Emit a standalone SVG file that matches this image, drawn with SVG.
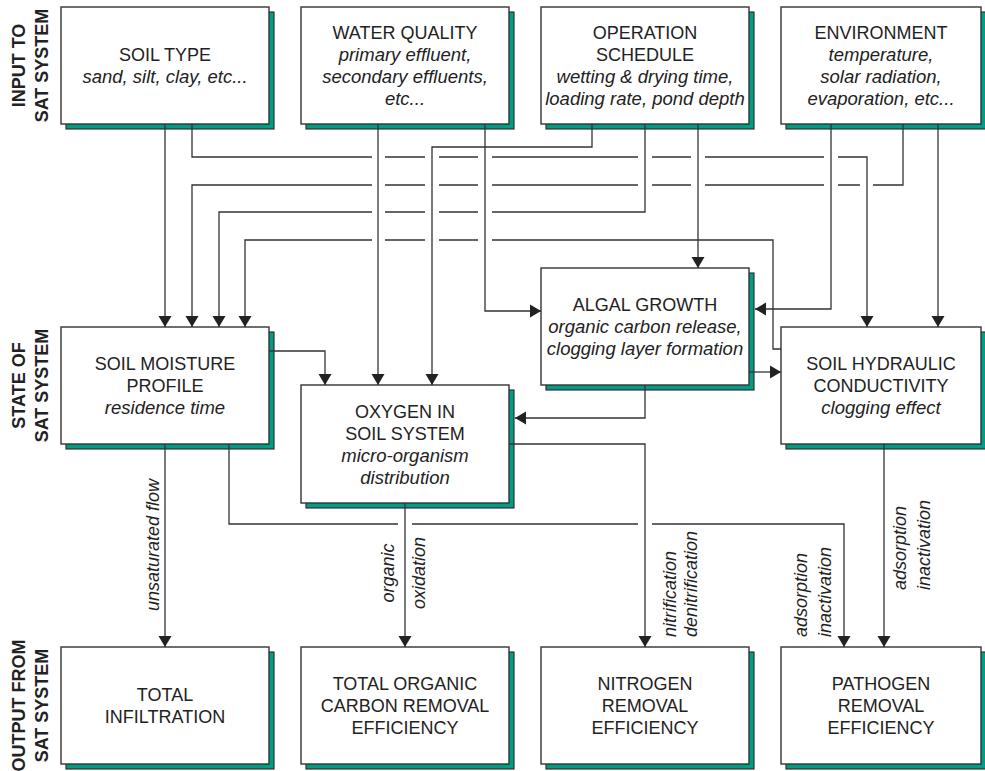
<svg xmlns="http://www.w3.org/2000/svg" width="985" height="771" viewBox="0 0 985 771">
<style>
.sh{fill:#009c86;stroke:#333;stroke-width:1.2}
.bx{fill:#fff;stroke:#333;stroke-width:1.4}
.t{font-family:"Liberation Sans",Arial,sans-serif;font-size:18px;fill:#222;text-anchor:middle}
.i{font-style:italic;font-size:18.5px}
.lb{font-family:"Liberation Sans",Arial,sans-serif;font-size:18px;font-weight:bold;fill:#222;text-anchor:middle}
.el{font-family:"Liberation Sans",Arial,sans-serif;font-size:18px;font-style:italic;fill:#222}
.c{fill:none;stroke:#333;stroke-width:1.3}
</style>
<defs>
<marker id="ar" markerUnits="userSpaceOnUse" markerWidth="14" markerHeight="14" viewBox="0 -7 12 14" refX="11" refY="0" orient="auto">
<path d="M0,-6.5 L11,0 L0,6.5 z" fill="#222"/>
</marker>
</defs>
<rect width="985" height="771" fill="#fff"/>

<g id="side-labels">
<g transform="translate(25,65.5) rotate(-90)"><text class="lb" y="0">INPUT TO</text><text class="lb" y="23">SAT SYSTEM</text></g>
<g transform="translate(25,385.5) rotate(-90)"><text class="lb" y="0">STATE OF</text><text class="lb" y="23">SAT SYSTEM</text></g>
<g transform="translate(25,705.5) rotate(-90)"><text class="lb" y="0">OUTPUT FROM</text><text class="lb" y="23">SAT SYSTEM</text></g>
</g>

<g id="soil-type">
<rect class="sh" x="66" y="12" width="208" height="117"/><rect class="bx" x="61" y="7" width="208" height="117"/>
<text class="t" x="165" y="61">SOIL TYPE</text>
<text class="t i" x="165" y="83">sand, silt, clay, etc...</text>
</g>
<g id="water-quality">
<rect class="sh" x="306" y="12" width="208" height="117"/><rect class="bx" x="301" y="7" width="208" height="117"/>
<text class="t" x="405" y="39">WATER QUALITY</text>
<text class="t i" x="405" y="61">primary effluent,</text>
<text class="t i" x="405" y="83">secondary effluents,</text>
<text class="t i" x="405" y="105">etc...</text>
</g>
<g id="operation-schedule">
<rect class="sh" x="546" y="12" width="208" height="117"/><rect class="bx" x="541" y="7" width="208" height="117"/>
<text class="t" x="645" y="39">OPERATION</text>
<text class="t" x="645" y="61">SCHEDULE</text>
<text class="t i" x="645" y="83">wetting &amp; drying time,</text>
<text class="t i" x="645" y="105">loading rate, pond depth</text>
</g>
<g id="environment">
<rect class="sh" x="786" y="12" width="200" height="117"/><rect class="bx" x="781" y="7" width="200" height="117"/>
<text class="t" x="881" y="39">ENVIRONMENT</text>
<text class="t i" x="881" y="61">temperature,</text>
<text class="t i" x="881" y="83">solar radiation,</text>
<text class="t i" x="881" y="105">evaporation, etc...</text>
</g>

<g id="soil-moisture">
<rect class="sh" x="66" y="332" width="208" height="117"/><rect class="bx" x="61" y="327" width="208" height="117"/>
<text class="t" x="165" y="370">SOIL MOISTURE</text>
<text class="t" x="165" y="392">PROFILE</text>
<text class="t i" x="165" y="414">residence time</text>
</g>
<g id="oxygen">
<rect class="sh" x="306" y="390" width="208" height="118"/><rect class="bx" x="301" y="385" width="208" height="118"/>
<text class="t" x="405" y="417.5">OXYGEN IN</text>
<text class="t" x="405" y="439.5">SOIL SYSTEM</text>
<text class="t i" x="405" y="461.5">micro-organism</text>
<text class="t i" x="405" y="483.5">distribution</text>
</g>
<g id="algal-growth">
<rect class="sh" x="546" y="273" width="208" height="117"/><rect class="bx" x="541" y="268" width="208" height="117"/>
<text class="t" x="645" y="311">ALGAL GROWTH</text>
<text class="t i" x="645" y="333">organic carbon release,</text>
<text class="t i" x="645" y="355">clogging layer formation</text>
</g>
<g id="soil-hydraulic">
<rect class="sh" x="786" y="332" width="200" height="117"/><rect class="bx" x="781" y="327" width="200" height="117"/>
<text class="t" x="881" y="370">SOIL HYDRAULIC</text>
<text class="t" x="881" y="392">CONDUCTIVITY</text>
<text class="t i" x="881" y="414">clogging effect</text>
</g>

<g id="total-infiltration">
<rect class="sh" x="66" y="652" width="208" height="117"/><rect class="bx" x="61" y="647" width="208" height="117"/>
<text class="t" x="165" y="701">TOTAL</text>
<text class="t" x="165" y="723">INFILTRATION</text>
</g>
<g id="toc-removal">
<rect class="sh" x="306" y="652" width="208" height="117"/><rect class="bx" x="301" y="647" width="208" height="117"/>
<text class="t" x="405" y="690">TOTAL ORGANIC</text>
<text class="t" x="405" y="712">CARBON REMOVAL</text>
<text class="t" x="405" y="734">EFFICIENCY</text>
</g>
<g id="nitrogen-removal">
<rect class="sh" x="546" y="652" width="208" height="117"/><rect class="bx" x="541" y="647" width="208" height="117"/>
<text class="t" x="645" y="690">NITROGEN</text>
<text class="t" x="645" y="712">REMOVAL</text>
<text class="t" x="645" y="734">EFFICIENCY</text>
</g>
<g id="pathogen-removal">
<rect class="sh" x="786" y="652" width="200" height="117"/><rect class="bx" x="781" y="647" width="200" height="117"/>
<text class="t" x="881" y="690">PATHOGEN</text>
<text class="t" x="881" y="712">REMOVAL</text>
<text class="t" x="881" y="734">EFFICIENCY</text>
</g>

<g id="connectors">
<path class="c" marker-end="url(#ar)" d="M165,124 V327"/>
<path class="c" marker-end="url(#ar)" d="M192,124 V157 H372 M385,157 H425 M439,157 H478 M492,157 H638 M652,157 H691 M705,157 H824 M838,157 H867 V327"/>
<path class="c" marker-end="url(#ar)" d="M903,124 V185 H873 M860,185 H838 M824,185 H705 M691,185 H652 M638,185 H492 M478,185 H439 M425,185 H385 M372,185 H192 V327"/>
<path class="c" marker-end="url(#ar)" d="M645,124 V212 H492 M478,212 H439 M425,212 H385 M372,212 H219 V327"/>
<path class="c" marker-end="url(#ar)" d="M781,349 H773 V240 H492 M478,240 H439 M425,240 H385 M372,240 H245 V327"/>
<path class="c" marker-end="url(#ar)" d="M592,124 V147 H432 V385"/>
<path class="c" marker-end="url(#ar)" d="M378,124 V385"/>
<path class="c" marker-end="url(#ar)" d="M485,124 V311 H541"/>
<path class="c" marker-end="url(#ar)" d="M698,124 V268"/>
<path class="c" marker-end="url(#ar)" d="M831,124 V309 H755"/>
<path class="c" marker-end="url(#ar)" d="M938,124 V327"/>
<path class="c" marker-end="url(#ar)" d="M269,351 H325 V385"/>
<path class="c" marker-end="url(#ar)" d="M749,372 H781"/>
<path class="c" marker-end="url(#ar)" d="M645,385 V418 H515"/>
<path class="c" marker-end="url(#ar)" d="M509,444 H645 V647"/>
<path class="c" marker-end="url(#ar)" d="M165,444 V647"/>
<path class="c" marker-end="url(#ar)" d="M229,444 V524 H398 M412,524 H638 M652,524 H844 V647"/>
<path class="c" marker-end="url(#ar)" d="M405,503 V647"/>
<path class="c" marker-end="url(#ar)" d="M884,444 V647"/>
<text class="el" text-anchor="middle" transform="translate(159,545) rotate(-90)">unsaturated flow</text>
<text class="el" text-anchor="middle" transform="translate(394,573) rotate(-90)">organic</text>
<text class="el" text-anchor="middle" transform="translate(425,573) rotate(-90)">oxidation</text>
<text class="el" transform="translate(676,637) rotate(-90)">nitrification</text>
<text class="el" transform="translate(697,637) rotate(-90)">denitrification</text>
<text class="el" transform="translate(807,637) rotate(-90)">adsorption</text>
<text class="el" transform="translate(831,637) rotate(-90)">inactivation</text>
<text class="el" transform="translate(906,590) rotate(-90)">adsorption</text>
<text class="el" transform="translate(930,590) rotate(-90)">inactivation</text>
</g>
</svg>
